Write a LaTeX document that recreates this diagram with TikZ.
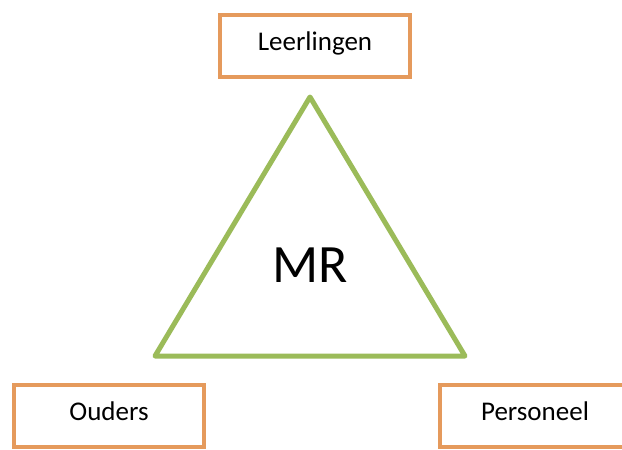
\documentclass[tikz,border=0pt]{standalone}
\usepackage{fontspec}
\setmainfont{Carlito}
\usetikzlibrary{positioning}
\definecolor{corange}{HTML}{E59A5C}
\definecolor{cgreen}{HTML}{9BBB59}

\begin{document}
\begin{tikzpicture}[x=1pt, y=-1pt,
  group/.style={draw=corange, line width=4pt, fill=white, minimum width=190pt, minimum height=62pt,
    text height=18pt, text depth=10pt, font=\fontsize{27}{30}\selectfont}]
  \useasboundingbox (0,0) rectangle (622,450);
  % triangle
  \draw[cgreen, line width=5pt, line join=round] (310,97) -- (155,356) -- (465,356) -- cycle;
  \node[font=\fontsize{54}{60}\selectfont] (mr) at (310,265) {MR};
  % the three groups
  \node[group] (leerlingen) at (315,46) {Leerlingen};
  \node[group] (ouders) at (109,416) {Ouders};
  \node[group] (personeel) at (535,416) {Personeel};
\end{tikzpicture}
\end{document}
